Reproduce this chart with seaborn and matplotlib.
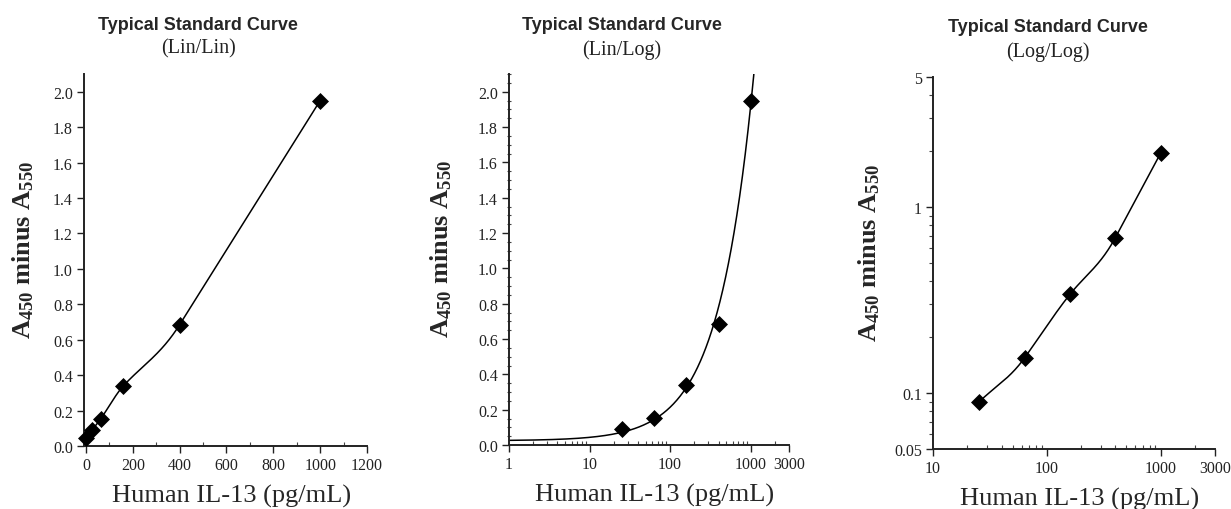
import numpy as np
import pandas as pd
import matplotlib
matplotlib.use("Agg")
import matplotlib.pyplot as plt
import matplotlib.ticker as mticker
import seaborn as sns

# ---- data ----
conc = [0, 25.6, 64, 160, 400, 1000]                 # Human IL-13 (pg/mL)
absorb = [0.045, 0.09, 0.155, 0.34, 0.685, 1.95]      # A450 minus A550
panel_titles = ["Typical Standard Curve"] * 3
panel_subtitles = ["(Lin/Lin)", "(Lin/Log)", "(Log/Log)"]
lin_xticks = [0, 200, 400, 600, 800, 1000, 1200]
lin_yticks = [0.0, 0.2, 0.4, 0.6, 0.8, 1.0, 1.2, 1.4, 1.6, 1.8, 2.0]
log_xticks_2 = [1, 10, 100, 1000, 3000]
log_xticks_3 = [10, 100, 1000, 3000]
log_yticks_3 = [0.05, 0.1, 1, 5]
log_ylabels_3 = ["0.05", "0.1", "1", "5"]
xlabel = "Human IL-13 (pg/mL)"
ylabel = r"$\mathbf{A_{450}}$ minus $\mathbf{A_{550}}$"

sns.set_style("ticks")
plt.rcParams["font.family"] = ["Liberation Serif", "DejaVu Serif"]
plt.rcParams["mathtext.fontset"] = "custom"
plt.rcParams["mathtext.rm"] = "Liberation Serif"
plt.rcParams["mathtext.bf"] = "Liberation Serif:bold"
plt.rcParams["mathtext.it"] = "Liberation Serif:italic"

df = pd.DataFrame({"conc": conc, "abs": absorb})
df_pos = df[df["conc"] > 0]


def hermite_curve(x, y, xs):
    """Smooth cubic Hermite line through the points (tangent = following chord)."""
    x = np.asarray(x, float); y = np.asarray(y, float)
    sec = np.diff(y) / np.diff(x)
    d = np.append(sec, sec[-1])
    idx = np.clip(np.searchsorted(x, xs) - 1, 0, len(x) - 2)
    h = x[idx + 1] - x[idx]
    t = (xs - x[idx]) / h
    h00 = 2 * t**3 - 3 * t**2 + 1
    h10 = t**3 - 2 * t**2 + t
    h01 = -2 * t**3 + 3 * t**2
    h11 = t**3 - t**2
    return h00 * y[idx] + h10 * h * d[idx] + h01 * y[idx + 1] + h11 * h * d[idx + 1]


W, H = 1231, 510
fig = plt.figure(figsize=(W / 100, H / 100), dpi=100)

def ax_at(l, r, t, b):
    return fig.add_axes([l / W, 1 - b / H, (r - l) / W, (b - t) / H])

ax1 = ax_at(84, 367, 75, 447)
ax2 = ax_at(509, 789, 75, 446)
ax3 = ax_at(933, 1215, 78, 450)

tick_kw = dict(labelsize=11.5, labelcolor="#222222", color="#222222")
marker_kw = dict(marker="D", s=75, color="black", edgecolor="black", linewidth=0, zorder=3, legend=False)
line_kw = dict(color="black", linewidth=1.1, legend=False)

# ---- Panel 1: Lin/Lin ----
xs1 = np.linspace(min(conc), max(conc), 600)
c1 = pd.DataFrame({"x": xs1, "y": hermite_curve(conc, absorb, xs1)})
sns.lineplot(data=c1, x="x", y="y", ax=ax1, **line_kw)
sns.scatterplot(data=df, x="conc", y="abs", ax=ax1, clip_on=False, **marker_kw)
ax1.set_xlim(-8.5, 1200)
ax1.set_ylim(0, 2.1)
ax1.set_xticks(lin_xticks)
ax1.set_yticks(lin_yticks)
ax1.set_yticklabels([f"{v:.1f}" for v in lin_yticks])
ax1.xaxis.set_minor_locator(mticker.MultipleLocator(100))

# ---- Panel 2: Lin/Log (linear fit shown on log x) ----
p = np.polyfit(conc, absorb, 1)
xs2 = np.geomspace(1, 3000, 500)
c2 = pd.DataFrame({"x": xs2, "y": np.polyval(p, xs2)})
sns.lineplot(data=c2, x="x", y="y", ax=ax2, **line_kw)
sns.scatterplot(data=df_pos, x="conc", y="abs", ax=ax2, **marker_kw)
ax2.set_xscale("log")
ax2.set_xlim(1, 3000)
ax2.set_ylim(0, 2.1)
ax2.set_xticks(log_xticks_2)
ax2.set_xticklabels([str(v) for v in log_xticks_2])
ax2.set_yticks(lin_yticks)
ax2.set_yticklabels([f"{v:.1f}" for v in lin_yticks])
ax2.yaxis.set_minor_locator(mticker.MultipleLocator(0.05))
ax2.xaxis.set_minor_locator(mticker.LogLocator(base=10, subs=np.arange(2, 10)))
ax2.xaxis.set_minor_formatter(mticker.NullFormatter())

# ---- Panel 3: Log/Log ----
lx = np.log10(df_pos["conc"].values); ly = np.log10(df_pos["abs"].values)
lxs = np.linspace(lx.min(), lx.max(), 500)
c3 = pd.DataFrame({"x": 10 ** lxs, "y": 10 ** hermite_curve(lx, ly, lxs)})
sns.lineplot(data=c3, x="x", y="y", ax=ax3, **line_kw)
sns.scatterplot(data=df_pos, x="conc", y="abs", ax=ax3, **marker_kw)
ax3.set_xscale("log"); ax3.set_yscale("log")
ax3.set_xlim(10, 3000)
ax3.set_ylim(0.05, 5)
ax3.set_xticks(log_xticks_3)
ax3.set_xticklabels([str(v) for v in log_xticks_3])
ax3.set_yticks(log_yticks_3)
ax3.set_yticklabels(log_ylabels_3)
ax3.xaxis.set_minor_locator(mticker.LogLocator(base=10, subs=np.arange(2, 10)))
ax3.yaxis.set_minor_locator(mticker.LogLocator(base=10, subs=np.arange(2, 10)))
ax3.xaxis.set_minor_formatter(mticker.NullFormatter())
ax3.yaxis.set_minor_formatter(mticker.NullFormatter())

title_x = [198, 622, 1048]
title_y = [25, 26, 28]
ylab_x = [-0.216, -0.243, -0.227]
xlab_x = [0.52, 0.52, 0.52]
for i, ax in enumerate([ax1, ax2, ax3]):
    sns.despine(ax=ax)
    for s in ["left", "bottom"]:
        ax.spines[s].set_linewidth(1.4)
        ax.spines[s].set_color("#222222")
    ax.tick_params(which="major", direction="out", length=5, width=1, pad=3, **tick_kw)
    ax.tick_params(axis="x", which="minor", direction="in", length=3, width=0.8, color="#444444")
    ax.tick_params(axis="y", which="minor", direction="inout" if i == 1 else "out",
                   length=3, width=0.8, color="#444444")
    ax.set_xlabel(xlabel, fontsize=19, family="Liberation Serif")
    ax.xaxis.label.set_verticalalignment("baseline")
    ax.xaxis.set_label_coords(xlab_x[i], -0.1505)
    ax.set_ylabel(ylabel, fontsize=19, fontweight="bold", family="Liberation Serif")
    ax.yaxis.label.set_verticalalignment("center")
    ax.yaxis.label.set_horizontalalignment("center")
    ax.yaxis.set_label_coords(ylab_x[i], 0.53)
    fig.text(title_x[i] / W, 1 - title_y[i] / H, panel_titles[i], ha="center", va="center",
             fontsize=13, fontweight="bold", family=["Liberation Sans", "DejaVu Sans"])
    fig.text(title_x[i] / W, 1 - (title_y[i] + 24) / H, panel_subtitles[i], ha="center",
             va="center", fontsize=14.5, family="Liberation Serif", color="#222222")

fig.savefig("out.png", dpi=100)
